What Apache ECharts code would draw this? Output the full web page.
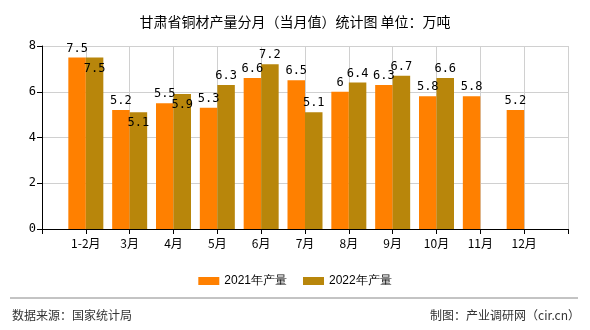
<!DOCTYPE html>
<html><head><meta charset="utf-8">
<script src="https://cdn.jsdelivr.net/npm/echarts@6/dist/echarts.min.js"></script>
<style>html,body{margin:0;padding:0;background:#fff}#c{width:590px;height:330px}</style>
</head><body><div id="c"></div>
<script>
var categories = ["1-2月","3月","4月","5月","6月","7月","8月","9月","10月","11月","12月"];
var seriesNames = ["2021年产量","2022年产量"];
var values2021 = [7.5, 5.2, 5.5, 5.3, 6.6, 6.5, 6, 6.3, 5.8, 5.8, 5.2];
var values2022 = [7.5, 5.1, 5.9, 6.3, 7.2, 5.1, 6.4, 6.7, 6.6];
var yTicks = [0, 2, 4, 6, 8];

var CJK = '"Noto Sans CJK SC", sans-serif';
var insideIdx = [0, 1, 2];
function mk(vals, inside) {
  return vals.map(function (v, i) {
    var d = { value: [i + 1, v] };
    if (inside && insideIdx.indexOf(i) >= 0) {
      d.label = { position: 'insideTop', distance: 5 };
    }
    return d;
  });
}
var chart = echarts.init(document.getElementById('c'));
var labelStyle = { show: true, position: 'top', distance: 3, color: '#000', fontSize: 12,
  fontFamily: '"DejaVu Sans Mono", monospace', formatter: function (p) { return p.value[1]; } };
chart.setOption({
  animation: false,
  title: { text: '甘肃省铜材产量分月（当月值）统计图 单位：万吨', left: 'center', top: 10,
    textStyle: { fontSize: 14, fontWeight: 'normal', color: '#000', fontFamily: CJK } },
  legend: { top: 270, itemWidth: 21, itemHeight: 8, itemGap: 16, icon: 'rect',
    textStyle: { fontSize: 12, color: '#000', fontFamily: '"Liberation Sans", Arial, sans-serif' },
    data: seriesNames },
  grid: { left: 42, right: 22, top: 46, bottom: 101, containLabel: false },
  xAxis: { type: 'value', min: 0, max: categories.length + 1, interval: 1,
    axisLine: { show: true, lineStyle: { color: '#000' } },
    axisTick: { show: true, lineStyle: { color: '#000' } },
    splitLine: { show: true, lineStyle: { color: '#d0d0d0' } },
    axisLabel: { fontSize: 12, color: '#000', fontFamily: CJK, margin: 8,
      formatter: function (v) { return categories[v - 1] || ''; } } },
  yAxis: { type: 'value', min: yTicks[0], max: yTicks[yTicks.length - 1], interval: 2,
    axisLine: { show: true, lineStyle: { color: '#000' } },
    axisTick: { show: true, lineStyle: { color: '#000' } },
    splitLine: { show: true, lineStyle: { color: '#d0d0d0' } },
    axisLabel: { fontSize: 12, color: '#000', fontFamily: '"DejaVu Sans Mono", monospace', margin: 6 } },
  series: [
    { name: seriesNames[0], type: 'bar', barWidth: 17.5, barGap: '0%', itemStyle: { color: '#FF8000' },
      label: labelStyle, data: mk(values2021, false) },
    { name: seriesNames[1], type: 'bar', barWidth: 17.5, barGap: '0%', itemStyle: { color: '#B8860B' },
      label: labelStyle, data: mk(values2022, true) }
  ],
  graphic: [
    { type: 'line', shape: { x1: 10, y1: 298, x2: 578, y2: 298 }, style: { stroke: '#888', lineWidth: 1 } },
    { type: 'text', left: 12, top: 309, style: { text: '数据来源：国家统计局', fontSize: 12, fill: '#333', fontFamily: CJK } },
    { type: 'text', right: 10, top: 309, style: { text: '制图：产业调研网（cir.cn）', fontSize: 12, fill: '#333', fontFamily: CJK } }
  ]
});
</script></body></html>
